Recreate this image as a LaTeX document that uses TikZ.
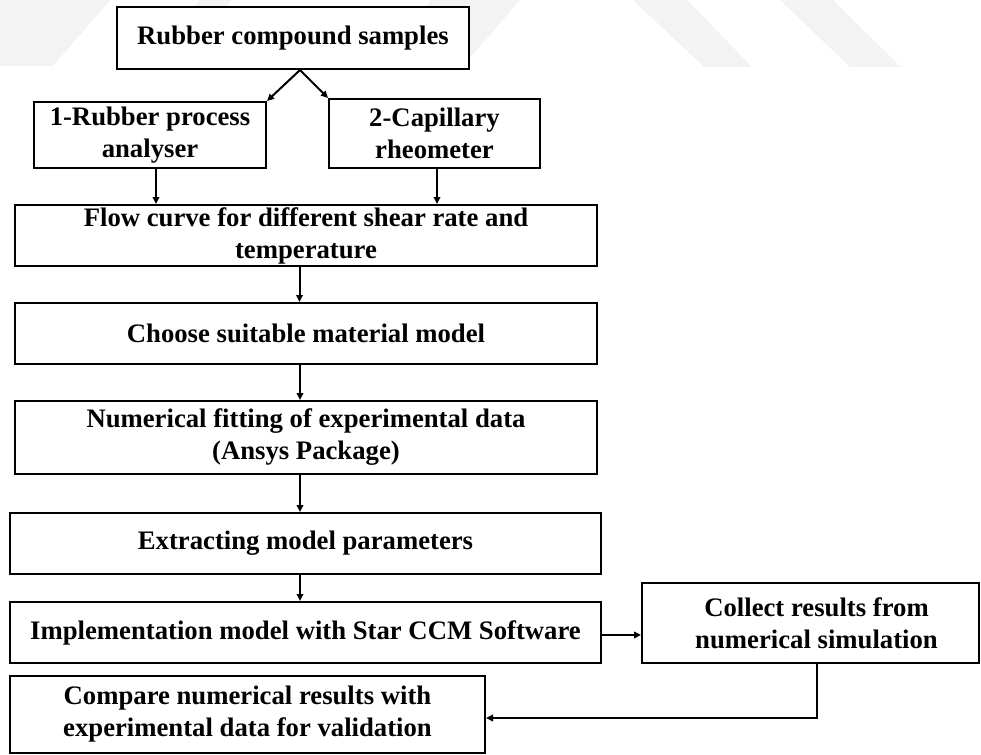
\documentclass[tikz,border=0pt]{standalone}
\usepackage{fontspec}
\setmainfont{Liberation Serif}
\usetikzlibrary{arrows.meta}
\definecolor{wm}{RGB}{243,243,243}
\tikzset{
  box/.style={draw=black, line width=2pt, fill=white, inner sep=0pt, align=center,
    font=\fontsize{26.7}{32}\selectfont\bfseries},
  arr/.style={line width=2pt, -{Triangle[length=7pt,width=6.5pt]}},
  wmark/.style={fill=wm, draw=none}
}
\begin{document}
\begin{tikzpicture}[x=1pt,y=-1pt]
\useasboundingbox (0,0) rectangle (981,754);
% watermark
\fill[wmark] (0,0) -- (110,0) -- (53,66) -- (0,66) -- cycle;
\fill[wmark] (200,0) -- (232,0) -- (175,66) -- (143,66) -- cycle;
\fill[wmark] (430,0) -- (520,0) -- (463,66) -- (400,66) -- cycle;
\fill[wmark] (633,0) -- (687,0) -- (752,67) -- (704,67) -- cycle;
\fill[wmark] (780,0) -- (833,0) -- (901,67) -- (850,67) -- cycle;
% boxes
\node[box, minimum width=352pt, minimum height=62pt] (b1) at (293,38) {Rubber compound samples};
\node[box, minimum width=232pt, minimum height=66pt] (b2) at (150,135) {1-Rubber process\\analyser};
\node[box, minimum width=211pt, minimum height=69pt] (b3) at (434.5,133.5) {2-Capillary\\rheometer};
\node[box, minimum width=582pt, minimum height=61pt] (b4) at (306,235.5) {Flow curve for different shear rate and\\temperature};
\node[box, minimum width=582pt, minimum height=61pt] (b5) at (306,333.5) {Choose suitable material model};
\node[box, minimum width=582pt, minimum height=73pt] (b6) at (306,437.5) {Numerical fitting of experimental data\\(Ansys Package)};
\node[box, minimum width=591pt, minimum height=61pt] (b7) at (305.5,543.5) {Extracting model parameters};
\node[box, minimum width=591pt, minimum height=61pt] (b8) at (305.5,632.5) {Implementation model with Star CCM Software};
\node[box, minimum width=337pt, minimum height=80pt] (b9) at (810.5,623) {\hspace*{12pt}Collect results from\\\hspace*{12pt}numerical simulation};
\node[box, minimum width=475pt, minimum height=77pt] (b10) at (247.5,714.5) {Compare numerical results with\\experimental data for validation};
% connectors
\draw[arr] ([xshift=7pt]b1.south) -- (b2.north east);
\draw[arr] ([xshift=7pt]b1.south) -- (b3.north west);
\draw[arr] ([xshift=6pt]b2.south) -- ([xshift=-150pt]b4.north);
\draw[arr] ([xshift=2.5pt]b3.south) -- ([xshift=131pt]b4.north);
\draw[arr] ([xshift=-6.5pt]b4.south) -- ([xshift=-6.5pt]b5.north);
\draw[arr] ([xshift=-6pt]b5.south) -- ([xshift=-6pt]b6.north);
\draw[arr] ([xshift=-6pt]b6.south) -- ([xshift=-5.5pt]b7.north);
\draw[arr] ([xshift=-5.5pt]b7.south) -- ([xshift=-5.5pt]b8.north);
\draw[arr] ([yshift=-2.5pt]b8.east) -- ([yshift=-2.5pt]b8.east -| b9.west);
\draw[arr] ([xshift=6.5pt]b9.south) |- ([yshift=-3.5pt]b10.east);
\end{tikzpicture}
\end{document}
